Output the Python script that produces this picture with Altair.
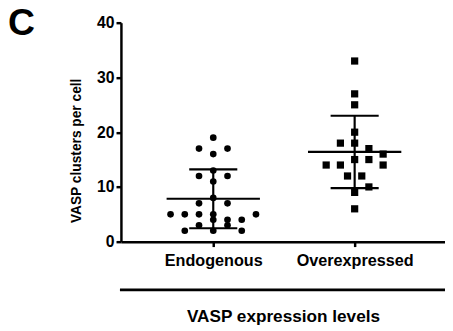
import json
import altair as alt
import pandas as pd

# ---- data ----
groups = ["Endogenous", "Overexpressed"]
endo_values = [19, 17, 17, 16, 13, 12, 12, 11, 8, 7, 7, 5, 5, 5, 5, 5, 4, 4, 4, 3, 3, 2, 2, 2]
endo_slots = [0, -1, 1, 0, 0, -1, 1, 0, 0, -1, 1, -3, -2, -1, 0, 3, 0, 1, 2, -1, 1, -2, 0, 2]
over_values = [33, 27, 25, 20, 18, 18, 17, 16, 15, 15, 14, 14, 14, 12, 12, 10, 9, 6]
over_slots = [0, 0, 0, 0, -1, 0, 1, 2, 0, 1, -2, -1, 2, -0.5, 0.5, 1, 0, 0]
y_ticks = [0, 10, 20, 30, 40]

df = pd.DataFrame({
    "group": [groups[0]] * len(endo_values) + [groups[1]] * len(over_values),
    "value": endo_values + over_values,
    "slot": endo_slots + over_slots,
})

FONT = "Liberation Sans"
G = json.dumps(groups)
IDX = f"indexof({G}, datum.group)"
SLOT_W = 0.1007
X_DOMAIN = [-0.653, 1.639]

x_scale = alt.Scale(domain=X_DOMAIN, nice=False, zero=False)
y_scale = alt.Scale(domain=[0, 40], nice=False)

x_axis = alt.Axis(
    values=[0, 1],
    labelExpr=f"{G}[datum.value]",
    title="VASP expression levels",
    grid=False,
    domainColor="black", domainWidth=2.5,
    tickColor="black", tickWidth=2.5, tickSize=5,
    labelFont=FONT, labelFontSize=16.5, labelFontWeight="bold", labelColor="black",
    labelPadding=6, labelBaseline="top",
    titleFont=FONT, titleFontSize=17.5, titleFontWeight="bold", titleColor="black",
    titlePadding=40,
)
y_axis = alt.Axis(
    values=y_ticks,
    title="VASP clusters per cell",
    grid=False,
    domainColor="black", domainWidth=2.5,
    tickColor="black", tickWidth=2.5, tickSize=5,
    labelFont=FONT, labelFontSize=16, labelFontWeight="bold", labelColor="black",
    labelPadding=2,
    titleFont=FONT, titleFontSize=14, titleFontWeight="bold", titleColor="black",
    titlePadding=13, titleY=130,
)


def X(field):
    return alt.X(field, scale=x_scale, axis=x_axis)


def Y(field):
    return alt.Y(field, scale=y_scale, axis=y_axis)


points = alt.Chart(df).transform_calculate(
    xpos=f"{IDX} + datum.slot * {SLOT_W}"
).mark_point(filled=True, opacity=1, color="black").encode(
    x=X("xpos:Q"),
    y=Y("value:Q"),
    shape=alt.Shape("group:N", scale=alt.Scale(domain=groups, range=["circle", "square"]), legend=None),
    size=alt.Size("group:N", scale=alt.Scale(domain=groups, range=[46, 54]), legend=None),
)

stats = alt.Chart(df).transform_aggregate(
    mean="mean(value)", sd="stdev(value)", groupby=["group"]
).transform_calculate(
    idx=IDX,
    lo="datum.mean - datum.sd",
    hi="datum.mean + datum.sd",
    ml=f"{IDX} - 0.33",
    mr=f"{IDX} + 0.33",
    cl=f"{IDX} - 0.17",
    cr=f"{IDX} + 0.17",
)

mean_rule = stats.mark_rule(color="black", strokeWidth=2.2).encode(
    x=X("ml:Q"), x2="mr:Q", y=Y("mean:Q"),
)
cap_hi = stats.mark_rule(color="black", strokeWidth=2.2).encode(
    x=X("cl:Q"), x2="cr:Q", y=Y("hi:Q"),
)
cap_lo = stats.mark_rule(color="black", strokeWidth=2.2).encode(
    x=X("cl:Q"), x2="cr:Q", y=Y("lo:Q"),
)
vline = stats.mark_rule(color="black", strokeWidth=2.2).encode(
    x=X("idx:Q"), y=Y("lo:Q"), y2="hi:Q",
)

# decorative line between the category labels and the axis title
under_line = alt.Chart(alt.Data(values=[{}])).mark_rule(color="black", strokeWidth=2.8).encode(
    x=alt.value(-1), x2=alt.value(335), y=alt.value(272)
)

# panel letter
panel_letter = alt.Chart(alt.Data(values=[{}])).mark_text(
    text="C", font=FONT, fontSize=38, fontWeight="bold", color="black",
    align="left", baseline="alphabetic",
).encode(x=alt.value(-115), y=alt.value(13))

chart = alt.layer(points, vline, mean_rule, cap_hi, cap_lo, under_line, panel_letter).properties(
    width=330,
    height=223,
    autosize=alt.AutoSizeParams(type="none"),
    padding={"left": 115, "top": 12, "right": 0, "bottom": 88},
    background="white",
).configure_view(stroke=None)

chart.save("out.html", embed_options={"renderer": "svg", "actions": False})
